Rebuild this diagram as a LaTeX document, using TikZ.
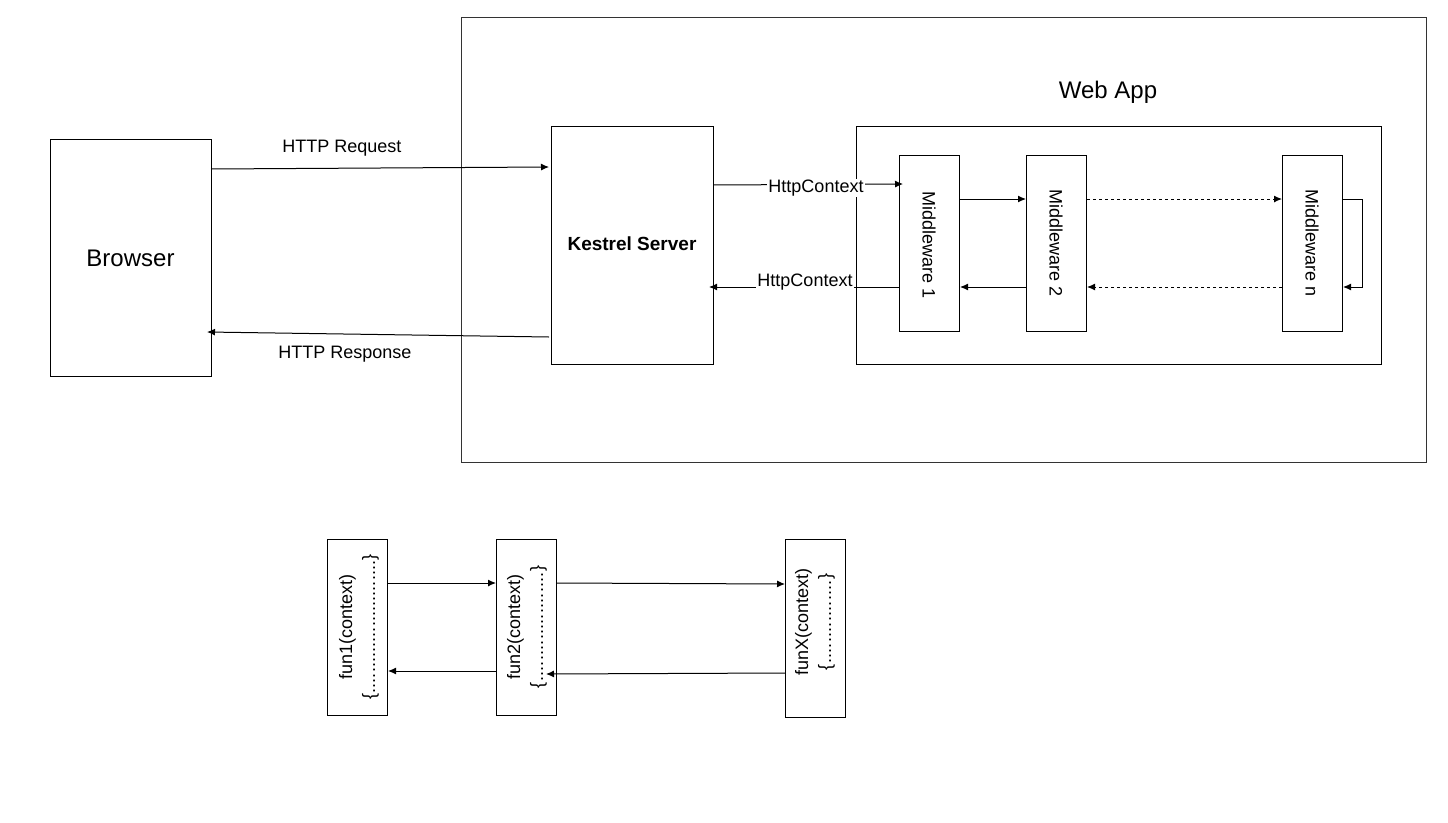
\documentclass[tikz,border=0pt]{standalone}
\usepackage{fontspec}
\setmainfont{Liberation Sans}
\usetikzlibrary{arrows.meta}
\newcommand\mydotbrace[1]{\hbox to #1{\{\xleaders\hbox{.}\hfill\}}}
\begin{document}
\begin{tikzpicture}[x=1pt,y=-1pt,
  box/.style={draw=black,line width=1pt,fill=white},
  conn/.style={draw=black,line width=1pt,-{Latex[length=8pt,width=7pt]}},
  dconn/.style={conn,dash pattern=on 3pt off 3pt},
  lbl/.style={font=\fontsize{18}{20}\selectfont,inner sep=1pt},
  mw/.style={font=\fontsize{18}{20}\selectfont,rotate=-90},
  fn/.style={font=\fontsize{18}{20}\selectfont,rotate=90,align=center}]
\useasboundingbox (0,0) rectangle (1448,822);
\fill[white] (0,0) rectangle (1448,822);
% outer frame
\node[box,draw=black!80,minimum width=965pt,minimum height=445pt,anchor=north west,inner sep=0] (outer) at (461,17) {};
% browser
\node[box,minimum width=161pt,minimum height=237pt,anchor=north west,inner sep=0] (browser) at (50,139) {};
\node[font=\fontsize{24}{26}\selectfont] (browsertxt) at (130.5,258) {Browser};
% kestrel
\node[box,minimum width=162pt,minimum height=238pt,anchor=north west,inner sep=0] (kestrel) at (551,126) {};
\node[font=\bfseries\fontsize{19}{21}\selectfont] (kestreltxt) at (632,244) {Kestrel Server};
% web app
\node[font=\fontsize{24}{26}\selectfont] (webapplbl) at (1108,92) {Web App};
\node[box,minimum width=525pt,minimum height=238pt,anchor=north west,inner sep=0] (webapp) at (856,126) {};
% middlewares
\node[box,minimum width=60pt,minimum height=176pt,anchor=north west,inner sep=0] (m1) at (899,155) {};
\node[mw] (m1t) at (929,245) {Middleware 1};
\node[box,minimum width=60pt,minimum height=176pt,anchor=north west,inner sep=0] (m2) at (1026,155) {};
\node[mw] (m2t) at (1056,243) {Middleware 2};
\node[box,minimum width=60pt,minimum height=176pt,anchor=north west,inner sep=0] (mn) at (1282,155) {};
\node[mw] (mnt) at (1312,243) {Middleware n};
% browser <-> kestrel
\coordinate (reqA) at (211,169);
\coordinate (reqB) at (549,167);
\draw[conn] (reqA) -- (reqB);
\node[lbl] (reqlbl) at (342,148) {HTTP Request};
\coordinate (resA) at (549,337);
\coordinate (resB) at (207,332);
\draw[conn] (resA) -- (resB);
\node[lbl] (reslbl) at (345,354) {HTTP Response};
% kestrel <-> middleware 1
\coordinate (hcA) at (713,185);
\coordinate (hcB) at (903,184);
\draw[conn] (hcA) -- (hcB);
\node[lbl,fill=white] (hc1) at (816,188) {HttpContext};
\coordinate (hcC) at (899,287);
\coordinate (hcD) at (709,287);
\draw[conn] (hcC) -- (hcD);
\node[lbl,fill=white] (hc2) at (805,282) {HttpContext};
% middleware chain
\draw[conn] (m1.east |- 0,199) -- (m2.west |- 0,199);
\draw[dconn] (m2.east |- 0,199) -- (mn.west |- 0,199);
\draw[conn] (mn.east |- 0,199) -- (1362,199) -- (1362,287) -- (mn.east |- 0,287);
\draw[dconn] (mn.west |- 0,287) -- (m2.east |- 0,287);
\draw[conn] (m2.west |- 0,287) -- (m1.east |- 0,287);
% bottom functions
\node[box,minimum width=60pt,minimum height=176pt,anchor=north west,inner sep=0] (f1) at (327,539) {};
\node[fn] (f1t) at (359,627) {fun1(context)\\[3pt]\mydotbrace{145pt}};
\node[box,minimum width=60pt,minimum height=176pt,anchor=north west,inner sep=0] (f2) at (496,539) {};
\node[fn] (f2t) at (527,627) {fun2(context)\\[3pt]\mydotbrace{122pt}};
\node[box,minimum width=60pt,minimum height=178pt,anchor=north west,inner sep=0] (fx) at (785,539) {};
\node[fn] (fxt) at (815,622) {funX(context)\\[3pt]\mydotbrace{96pt}};
\draw[conn] (f1.east |- 0,583) -- (f2.west |- 0,583);
\draw[conn] (f2.east |- 0,583) -- (fx.west |- 0,584);
\coordinate (fxback) at (546,674);
\draw[conn] (fx.west |- 0,673) -- (fxback);
\draw[conn] (f2.west |- 0,671) -- (f1.east |- 0,671);
\end{tikzpicture}
\end{document}
